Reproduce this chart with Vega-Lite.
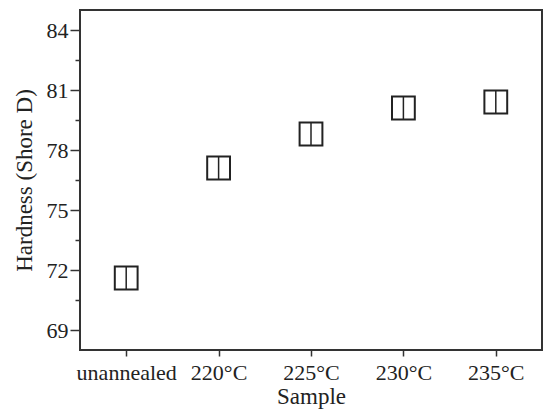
{
  "$schema": "https://vega.github.io/schema/vega-lite/v6.json",
  "width": 462,
  "height": 340,
  "autosize": {"type": "none"},
  "padding": {"left": 80, "top": 10, "right": 4, "bottom": 65},
  "background": "white",
  "config": {
    "view": {"stroke": "#333333", "strokeWidth": 2},
    "font": "Liberation Serif",
    "axis": {
      "labelFont": "Liberation Serif",
      "titleFont": "Liberation Serif",
      "labelFontSize": 22,
      "titleFontSize": 23,
      "titleFontWeight": "normal",
      "labelColor": "#222222",
      "titleColor": "#222222",
      "tickColor": "#333333",
      "tickWidth": 1.5,
      "domain": false,
      "grid": false
    }
  },
  "data": {
    "values": [
      {"sample": "unannealed", "hardness": 71.6, "lo": 71.05, "hi": 72.15},
      {"sample": "220°C", "hardness": 77.1, "lo": 76.55, "hi": 77.65},
      {"sample": "225°C", "hardness": 78.8, "lo": 78.25, "hi": 79.35},
      {"sample": "230°C", "hardness": 80.1, "lo": 79.55, "hi": 80.65},
      {"sample": "235°C", "hardness": 80.4, "lo": 79.85, "hi": 80.95}
    ]
  },
  "layer": [
    {
      "mark": {"type": "rule", "color": "#222222", "strokeWidth": 1.5},
      "encoding": {
        "x": {
          "field": "sample",
          "type": "ordinal",
          "sort": null,
          "scale": {"type": "point", "padding": 0.5},
          "axis": {
            "title": "Sample",
            "labelAngle": 0,
            "tickSize": 6,
            "labelPadding": 6,
            "titlePadding": 2
          }
        },
        "y": {
          "field": "lo",
          "type": "quantitative",
          "scale": {"domain": [68, 85], "nice": false, "zero": false},
          "axis": {
            "title": "Hardness (Shore D)",
            "values": [69, 70.5, 72, 73.5, 75, 76.5, 78, 79.5, 81, 82.5, 84],
            "tickCount": 30,
            "labelExpr": "datum.value % 3 == 0 ? format(datum.value, 'd') : ''",
            "labelOverlap": false,
            "tickSize": {"condition": {"test": "datum.value % 3 == 0", "value": 10}, "value": 5},
            "labelPadding": 2,
            "titlePadding": 10
          }
        },
        "y2": {"field": "hi"}
      }
    },
    {
      "mark": {"type": "point", "shape": "square", "filled": false, "size": 520, "stroke": "#222222", "strokeWidth": 2, "opacity": 1},
      "encoding": {
        "x": {"field": "sample", "type": "ordinal", "sort": null},
        "y": {"field": "hardness", "type": "quantitative"}
      }
    }
  ]
}
